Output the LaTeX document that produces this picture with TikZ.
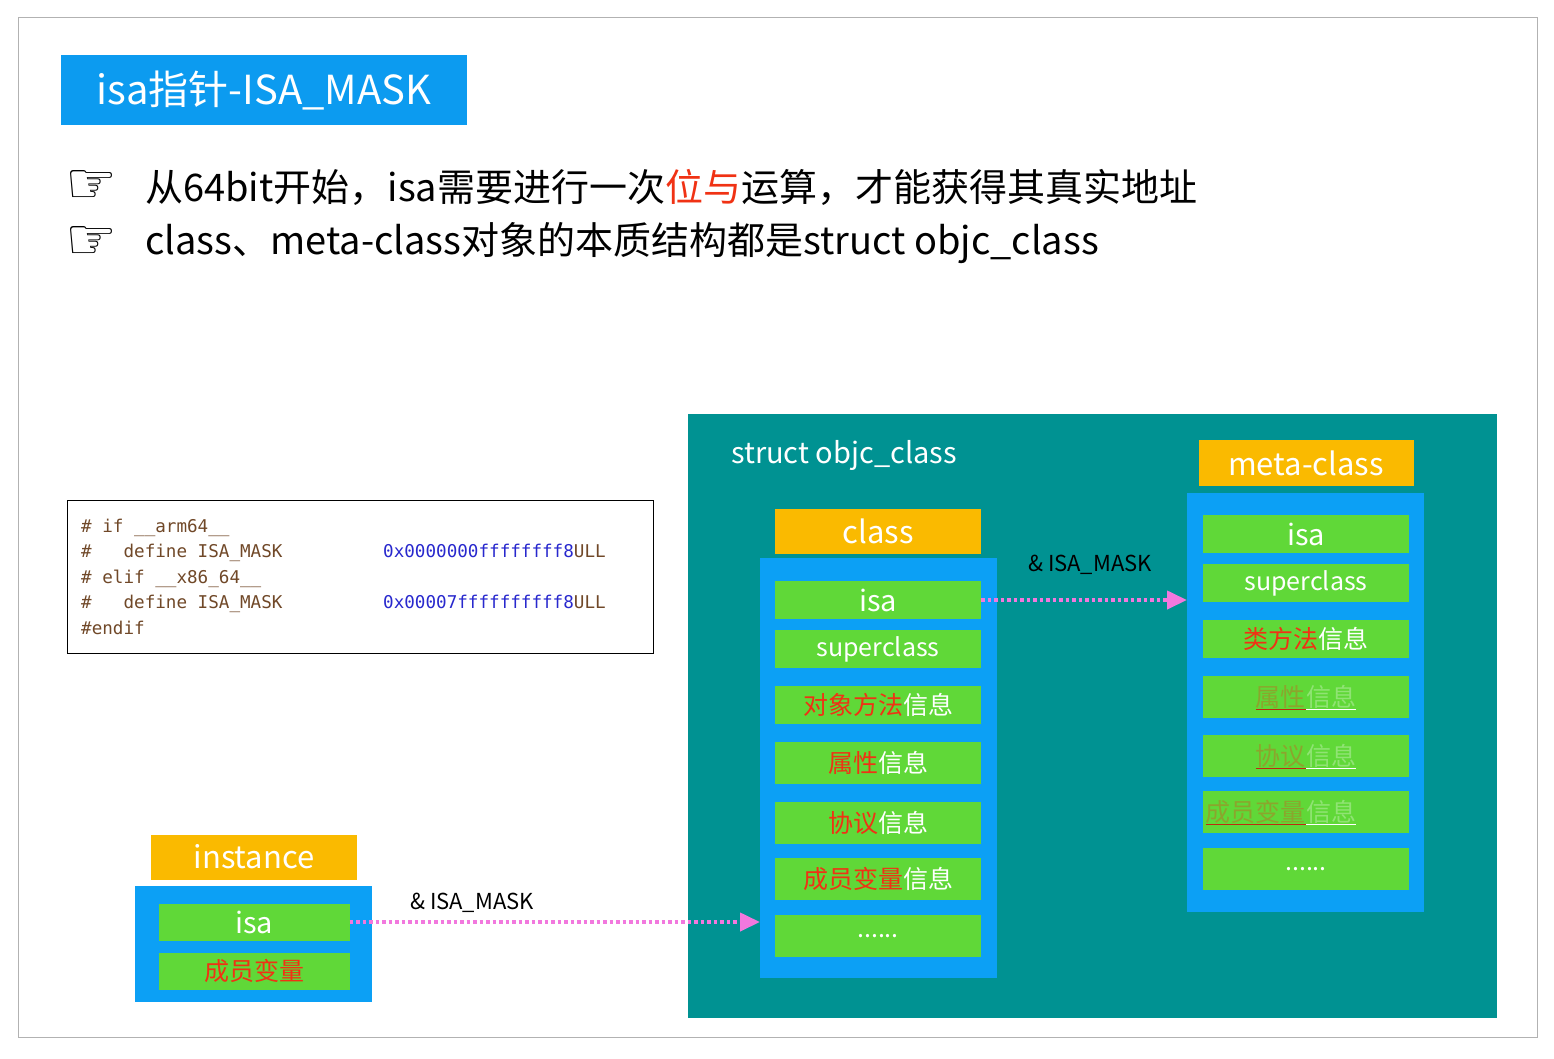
\documentclass[tikz,border=0pt]{standalone}
\usepackage{fontspec}
\setmainfont{Noto Sans CJK SC}
\newfontfamily\codefont{DejaVu Sans Mono}
\newfontfamily\symfont{DejaVu Sans}
\usetikzlibrary{arrows.meta}
\definecolor{titleblue}{RGB}{12,155,240}
\definecolor{boxblue}{RGB}{12,160,245}
\definecolor{teal}{RGB}{0,146,146}
\definecolor{hdrorange}{RGB}{250,186,0}
\definecolor{rowgreen}{RGB}{96,216,56}
\definecolor{itemred}{RGB}{240,50,20}
\definecolor{arrowpink}{RGB}{242,120,222}
\definecolor{codebrown}{RGB}{112,72,40}
\definecolor{codeblue}{RGB}{40,40,205}
\begin{document}
\begin{tikzpicture}[x=1pt,y=-1pt,
  hdr/.style={fill=hdrorange, text=white, minimum width=206, minimum height=45, inner sep=0, font=\fontsize{31}{32}\selectfont},
  cont/.style={fill=boxblue, inner sep=0, anchor=north west},
  row/.style={fill=rowgreen, text=white, minimum width=206, minimum height=38, inner sep=0, font=\fontsize{25}{26}\selectfont},
  bigrow/.style={row, font=\fontsize{29}{30}\selectfont},
  faded/.style={inner sep=0, opacity=0.3, font=\fontsize{25}{26}\selectfont},
  code/.style={anchor=base west, inner sep=0, font=\codefont\fontsize{17.6}{18}\selectfont, text=codebrown},
  hex/.style={code, text=codeblue},
  mask/.style={line width=4, arrowpink, dash pattern=on 3.5 off 3, -{Triangle[length=20,width=18]}},
  masklabel/.style={font=\fontsize{22}{23}\selectfont, inner sep=0}]
  \useasboundingbox (0,0) rectangle (1554,1058);
  \draw[gray!60, line width=1] (18,17) rectangle (1537,1037);

  % title and bullets
  \node[fill=titleblue, text=white, minimum width=406, minimum height=70, inner sep=0, font=\fontsize{40}{41}\selectfont] (title) at (264,90) {isa指针-ISA\_MASK};
  \node[inner sep=0, font=\symfont\fontsize{58}{58}\selectfont] (b1) at (91,187) {☞};
  \node[inner sep=0, font=\symfont\fontsize{58}{58}\selectfont] (b2) at (91,243) {☞};
  \node[anchor=west, inner sep=0, font=\fontsize{38}{39}\selectfont] (l1) at (145,187) {从64bit开始，isa需要进行一次\textcolor{itemred}{位与}运算，才能获得其真实地址};
  \node[anchor=west, inner sep=0, font=\fontsize{38}{39}\selectfont] (l2) at (145,243) {class、meta-class对象的本质结构都是struct objc\_class};

  % code box
  \draw[black, line width=1] (67,500) rectangle (653,653);
  \node[code] (c1) at (81,532) {\# if \_\_arm64\_\_};
  \node[code] (c2) at (81,557) {\#\ \ \ define ISA\_MASK};
  \node[hex] (h2) at (383,557) {0x0000000ffffffff8\textcolor{codebrown}{ULL}};
  \node[code] (c3) at (81,583) {\# elif \_\_x86\_64\_\_};
  \node[code] (c4) at (81,608) {\#\ \ \ define ISA\_MASK};
  \node[hex] (h4) at (383,608) {0x00007ffffffffff8\textcolor{codebrown}{ULL}};
  \node[code] (c5) at (81,634) {\#endif};

  % struct objc_class
  \fill[teal] (688,414) rectangle (1497,1018);
  \node[anchor=west, text=white, inner sep=0, font=\fontsize{29}{30}\selectfont] (st) at (731,455) {struct objc\_class};

  % class
  \node[hdr] (clshdr) at (878,531) {class};
  \node[cont, minimum width=237, minimum height=420] (cls) at (760,558) {};
  \node[bigrow] (cisa) at (878,600) {isa};
  \node[row] (csup) at (878,649) {superclass};
  \node[row] (cobj) at (878,705) {\textcolor{itemred}{对象方法}信息};
  \node[row, minimum height=42] (cprop) at (878,763) {\textcolor{itemred}{属性}信息};
  \node[row, minimum height=42] (cproto) at (878,823) {\textcolor{itemred}{协议}信息};
  \node[row, minimum height=42] (civar) at (878,879) {\textcolor{itemred}{成员变量}信息};
  \node[row, minimum height=42] (cdots) at (878,936) {......};

  % meta-class
  \node[hdr, minimum width=215, minimum height=46] (metahdr) at (1306,463) {meta-class};
  \node[cont, minimum width=237, minimum height=419] (meta) at (1187,493) {};
  \node[bigrow] (misa) at (1306,534) {isa};
  \node[row] (msup) at (1306,583) {superclass};
  \node[row] (mcls) at (1306,639) {\textcolor{itemred}{类方法}信息};
  \node[row, minimum height=42] (mprop) at (1306,697) {};
  \node[row, minimum height=42] (mproto) at (1306,756) {};
  \node[row, minimum height=42] (mivar) at (1306,812) {};
  \node[row, minimum height=42] (mdots) at (1306,869) {......};
  \foreach \n/\r/\w in {mprop/属性/信息, mproto/协议/信息, mivar/成员变量/信息} {
    \node[faded, text=itemred, anchor=east] (\n r) at (\n.center) {\r};
    \node[faded, text=white, anchor=west] (\n w) at (\n r.east) {\w};
    \draw[itemred!80!black, line width=1.5] ([yshift=-3]\n r.base west) -- ([yshift=-3]\n r.base east);
    \draw[white, line width=1.5] ([yshift=-3]\n w.base west) -- ([yshift=-3]\n w.base east);
  }

  % instance
  \node[hdr] (insthdr) at (254,857) {instance};
  \node[cont, minimum width=237, minimum height=116] (inst) at (135,886) {};
  \node[bigrow, minimum width=191, minimum height=37] (iisa) at (254,922) {isa};
  \node[row, minimum width=191, minimum height=37, text=itemred] (iivar) at (254,971) {成员变量};

  % ISA_MASK arrows
  \draw[mask] (iisa.east) -- (cls.west |- iisa.east);
  \node[masklabel] (lab1) at (472,903) {\& ISA\_MASK};
  \draw[mask] (cisa.east) -- (meta.west |- cisa.east);
  \node[masklabel] (lab2) at (1090,565) {\& ISA\_MASK};
\end{tikzpicture}
\end{document}
